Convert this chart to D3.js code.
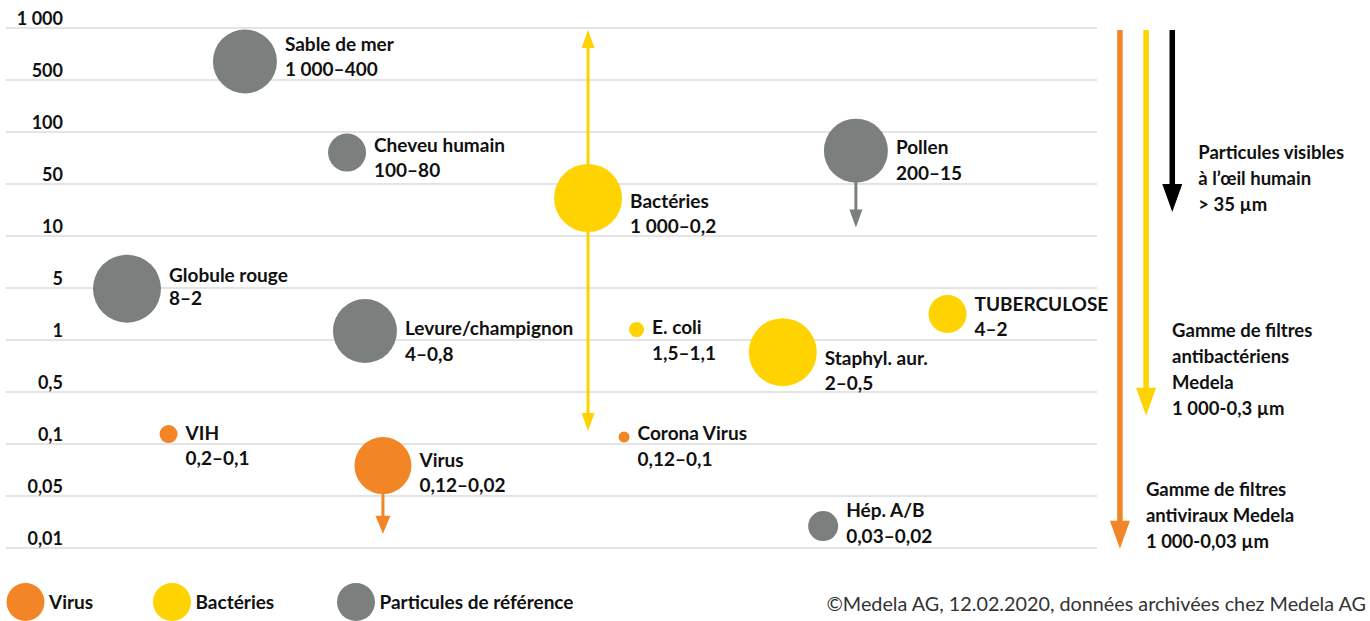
<!DOCTYPE html>
<html>
<head>
<meta charset="utf-8">
<script src="https://cdn.jsdelivr.net/npm/d3@7"></script>
<style>
  html, body { margin: 0; padding: 0; background: #fff; }
  svg { display: block; font-family: "Lato", "Open Sans", sans-serif; }
</style>
</head>
<body>
<div id="chart"></div>
<script>
// size levels on the axis (µm) and their printed labels
const sizeTicks = [1000, 500, 100, 50, 10, 5, 1, 0.5, 0.1, 0.05, 0.01];
const tickLabels = ["1 000", "500", "100", "50", "10", "5", "1", "0,5", "0,1", "0,05", "0,01"];

// particles
const particleNames = ["Sable de mer", "Cheveu humain", "Pollen", "Bactéries", "Globule rouge", "Levure/champignon", "E. coli", "Staphyl. aur.", "TUBERCULOSE", "VIH", "Virus", "Corona Virus", "Hép. A/B"];
const particleRanges = ["1 000–400", "100–80", "200–15", "1 000–0,2", "8–2", "4–0,8", "1,5–1,1", "2–0,5", "4–2", "0,2–0,1", "0,12–0,02", "0,12–0,1", "0,03–0,02"];
const particleGroups = ["ref", "ref", "ref", "bac", "ref", "ref", "bac", "bac", "bac", "vir", "vir", "vir", "ref"];
const particleSize = [640, 76, 78, 32.4, 4.9, 1.32, 1.38, 0.85, 2.24, 0.136, 0.075, 0.124, 0.0197];
const particleColumn = [21.9, 31.26, 77.9, 53.35, 11.09, 32.9, 57.8, 71.2, 86.3, 14.9, 34.55, 56.65, 74.9];
const particleWeight = [32, 19, 32, 34, 34, 32, 7.5, 34, 19, 9, 28.5, 5.5, 15];

// range arrows attached to particles
const extentFrom = ["Bactéries", "Bactéries", "Pollen", "Virus"];
const extentTo = [1000, 0.15, 13, 0.0155];

// filter ranges on the right
const filterColumn = [102.1, 104.5, 106.9];
const filterTo = [0.0098, 0.24, 21];
const filterGroups = ["vir", "bac", "eye"];
const filterTexts = [
  ["Gamme de filtres", "antiviraux Medela", "1 000-0,03 µm"],
  ["Gamme de filtres", "antibactériens", "Medela", "1 000-0,3 µm"],
  ["Particules visibles", "à l’œil humain", "> 35 µm"],
];

const legendGroups = ["vir", "bac", "ref"];
const legendLabels = ["Virus", "Bactéries", "Particules de référence"];

const width = 1370;
const height = 621;

const color = d3.scaleOrdinal()
  .domain(["vir", "bac", "ref", "eye"])
  .range(["#f28627", "#ffd300", "#7b7f7e", "#000000"]);

const svg = d3.select("#chart")
  .append("svg")
  .attr("width", width)
  .attr("height", height)
  .attr("viewBox", `0 0 ${width} ${height}`);

const yLevel = d3.scalePoint().domain(sizeTicks).range([28, 548]);
const y = d3.scaleLog().domain(sizeTicks).range(sizeTicks.map(yLevel));
const x = d3.scaleLinear().domain([0, 100]).range([6, 1097]);
const r = d3.scaleLinear().domain([0, 34]).range([0, 34]);

// grid
svg.append("g")
  .selectAll("line")
  .data(sizeTicks)
  .join("line")
  .attr("x1", x(0))
  .attr("x2", x(100))
  .attr("y1", (d) => y(d))
  .attr("y2", (d) => y(d))
  .attr("stroke", "#c9c9c9")
  .attr("stroke-width", 1.2);

svg.append("g")
  .selectAll("text")
  .data(sizeTicks)
  .join("text")
  .attr("x", 63)
  .attr("y", (d) => y(d) - 3)
  .attr("text-anchor", "end")
  .attr("font-size", 18)
  .attr("font-weight", 700)
  .attr("fill", "#111")
  .text((d, i) => tickLabels[i]);

const particles = particleNames.map((name, i) => ({
  name,
  range: particleRanges[i],
  group: particleGroups[i],
  size: particleSize[i],
  col: particleColumn[i],
  weight: particleWeight[i],
}));
const byName = new Map(particles.map((d) => [d.name, d]));

function arrowHead(g, cx, tipY, dir, w, h, fill) {
  g.append("path")
    .attr("d", `M${cx - w / 2},${tipY - dir * h} L${cx + w / 2},${tipY - dir * h} L${cx},${tipY} Z`)
    .attr("fill", fill);
}

// particle range arrows
const extentLayer = svg.append("g");
extentFrom.forEach((name, i) => {
  const p = byName.get(name);
  const cx = x(p.col);
  const cy = y(p.size);
  let tip = y(extentTo[i]);
  const dir = tip > cy ? 1 : -1;
  if (dir < 0) tip += 2;
  const headW = p.group === "vir" ? 15 : 13;
  extentLayer.append("line")
    .attr("x1", cx).attr("x2", cx)
    .attr("y1", cy).attr("y2", tip - dir * 10)
    .attr("stroke", color(p.group))
    .attr("stroke-width", 3);
  arrowHead(extentLayer, cx, tip, dir, headW, 18, color(p.group));
});

// particle bubbles
svg.append("g")
  .selectAll("circle")
  .data(particles)
  .join("circle")
  .attr("cx", (d) => x(d.col))
  .attr("cy", (d) => y(d.size))
  .attr("r", (d) => r(d.weight))
  .attr("fill", (d) => color(d.group));

// label placement tweaks (first line baseline offset, line gap)
const labelDy = {
  "Sable de mer": [-10, 25], "Cheveu humain": [-1, 25], "Pollen": [3, 26],
  "Bactéries": [10, 25], "Globule rouge": [-7, 23], "Levure/champignon": [4, 26],
  "E. coli": [4.5, 26], "Staphyl. aur.": [13, 25], "TUBERCULOSE": [-3, 25],
  "VIH": [6, 25], "Virus": [1.5, 25], "Corona Virus": [3, 26], "Hép. A/B": [-9, 26],
};

const labelX = (d) => x(d.col) + r(d.weight) + 8;

const labels = svg.append("g")
  .selectAll("text")
  .data(particles)
  .join("text")
  .attr("font-size", 19)
  .attr("font-weight", 700)
  .attr("fill", "#111")
  .attr("x", labelX)
  .attr("y", (d) => y(d.size) + labelDy[d.name][0]);

labels.append("tspan").text((d) => d.name);
labels.append("tspan")
  .attr("x", labelX)
  .attr("dy", (d) => labelDy[d.name][1])
  .text((d) => d.range);

// filter arrows on the right
const filterLayer = svg.append("g");
filterColumn.forEach((col, i) => {
  const cx = x(col);
  const tip = y(filterTo[i]);
  const c = color(filterGroups[i]);
  filterLayer.append("line")
    .attr("x1", cx).attr("x2", cx)
    .attr("y1", y(1000) + 2).attr("y2", tip - 20)
    .attr("stroke", c)
    .attr("stroke-width", 5.5);
  arrowHead(filterLayer, cx, tip, 1, 20, 28, c);

  const lines = filterTexts[i];
  filterLayer.append("text")
    .attr("font-size", 18.5)
    .attr("font-weight", 700)
    .attr("fill", "#111")
    .selectAll("tspan")
    .data(lines)
    .join("tspan")
    .attr("x", cx + 26)
    .attr("y", (d, k) => tip - 1 - (lines.length - 1 - k) * 25.8)
    .text((d) => d);
});

// legend
const legendX = [25.5, 172, 356];
const legend = svg.append("g")
  .selectAll("g")
  .data(legendGroups)
  .join("g")
  .attr("transform", (d, i) => `translate(${legendX[i]}, 602)`);

legend.append("circle")
  .attr("r", 19)
  .attr("fill", (d) => color(d));

legend.append("text")
  .attr("x", 23.5)
  .attr("y", 7)
  .attr("font-size", 19)
  .attr("font-weight", 700)
  .attr("fill", "#111")
  .text((d, i) => legendLabels[i]);

svg.append("text")
  .attr("x", 1366)
  .attr("y", 611)
  .attr("text-anchor", "end")
  .attr("font-size", 19.8)
  .attr("font-weight", 400)
  .attr("fill", "#333")
  .text("©Medela AG, 12.02.2020, données archivées chez Medela AG");
</script>
</body>
</html>
